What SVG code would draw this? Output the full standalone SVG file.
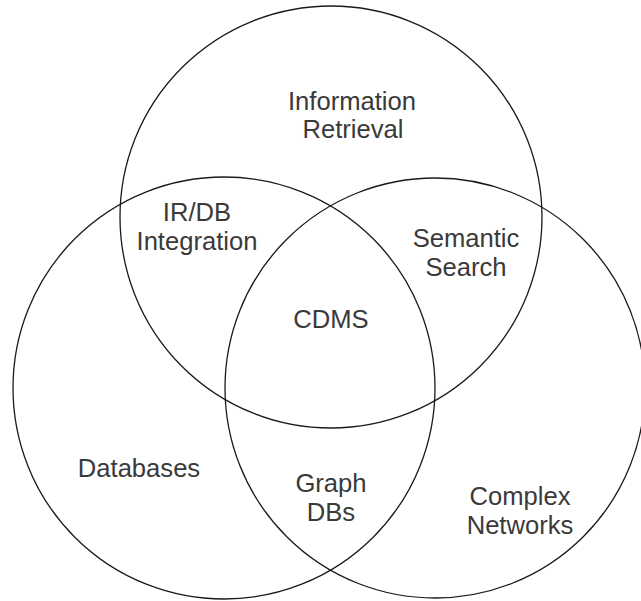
<svg xmlns="http://www.w3.org/2000/svg" width="641" height="601" viewBox="0 0 641 601">
  <style>
    .set { fill: none; stroke: #1a1a1a; stroke-width: 1.3; }
    .lbl { font-family: "Liberation Sans", Arial, sans-serif; font-size: 25.6px; fill: #3a3a3a; text-anchor: middle; }
  </style>
  <rect width="641" height="601" fill="#ffffff"/>
  <g id="sets">
    <circle id="set-ir" class="set" cx="331" cy="217" r="211"/>
    <circle id="set-db" class="set" cx="224" cy="388" r="211"/>
    <circle id="set-cn" class="set" cx="435" cy="388" r="210"/>
  </g>
  <g id="labels">
    <g id="information-retrieval"><text class="lbl" x="352" y="110">Information</text><text class="lbl" x="353" y="138">Retrieval</text></g>
    <g id="irdb-integration"><text class="lbl" x="197" y="221">IR/DB</text><text class="lbl" x="197" y="250">Integration</text></g>
    <g id="semantic-search"><text class="lbl" x="466" y="247">Semantic</text><text class="lbl" x="466" y="276">Search</text></g>
    <g id="cdms"><text class="lbl" x="331" y="328">CDMS</text></g>
    <g id="databases"><text class="lbl" x="139" y="477">Databases</text></g>
    <g id="graph-dbs"><text class="lbl" x="331" y="492">Graph</text><text class="lbl" x="331" y="521">DBs</text></g>
    <g id="complex-networks"><text class="lbl" x="520" y="505">Complex</text><text class="lbl" x="520" y="534">Networks</text></g>
  </g>
</svg>
